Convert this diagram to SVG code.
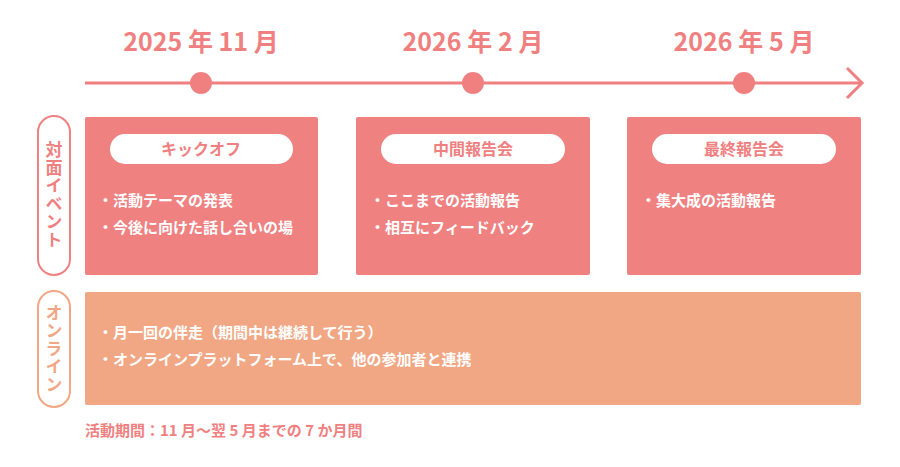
<svg xmlns="http://www.w3.org/2000/svg" width="900" height="467" viewBox="0 0 900 467">
<style>
text{font-family:"Noto Sans CJK JP","Noto Sans",sans-serif;font-weight:bold}
.yr{fill:#F08080;font-size:25px;text-anchor:middle}
.box{fill:#F08181}
.pill{fill:#fff}
.pt{fill:#F08080;font-size:16px;text-anchor:middle}
.it{fill:#fff;font-size:15px}
.vt{font-size:17px;writing-mode:vertical-rl;text-anchor:middle;letter-spacing:1px}
</style>
<g id="connectors">
<line x1="85" y1="83" x2="861" y2="83" stroke="#F08080" stroke-width="3"/>
<polyline points="847,68 862,83 847,98" fill="none" stroke="#F08080" stroke-width="3"/>
</g>
<g id="timeline">
<circle cx="201" cy="83" r="11" fill="#F08080"/>
<circle cx="473" cy="83" r="11" fill="#F08080"/>
<circle cx="744" cy="83" r="11" fill="#F08080"/>
<text class="yr" x="201" y="51">2025 年 11 月</text>
<text class="yr" x="473" y="51">2026 年 2 月</text>
<text class="yr" x="744" y="51">2026 年 5 月</text>
</g>
<g id="label-event">
<rect x="38" y="116" width="32" height="159" rx="16" fill="#fff" stroke="#F08080" stroke-width="2"/>
<text class="vt" x="54" y="195" fill="#F08080">対面イベント</text>
</g>
<g id="label-online">
<rect x="38" y="291" width="32" height="116" rx="16" fill="#fff" stroke="#F2A784" stroke-width="2"/>
<text class="vt" x="54" y="349" fill="#F2A784">オンライン</text>
</g>
<g id="kickoff">
<rect class="box" x="85" y="117" width="233" height="158" rx="2"/>
<rect class="pill" x="110" y="134" width="183" height="30" rx="15"/>
<text class="pt" x="201" y="155">キックオフ</text>
<text class="it" x="98" y="206">・活動テーマの発表</text>
<text class="it" x="98" y="233">・今後に向けた話し合いの場</text>
</g>
<g id="midterm">
<rect class="box" x="356" y="117" width="234" height="158" rx="2"/>
<rect class="pill" x="381" y="134" width="184" height="30" rx="15"/>
<text class="pt" x="473" y="155">中間報告会</text>
<text class="it" x="370" y="206">・ここまでの活動報告</text>
<text class="it" x="370" y="233">・相互にフィードバック</text>
</g>
<g id="final">
<rect class="box" x="627" y="117" width="234" height="158" rx="2"/>
<rect class="pill" x="652" y="134" width="184" height="30" rx="15"/>
<text class="pt" x="744" y="155">最終報告会</text>
<text class="it" x="641" y="206">・集大成の活動報告</text>
</g>
<g id="online">
<rect x="85" y="292" width="776" height="113" rx="2" fill="#F2A784"/>
<text class="it" x="98" y="338">・月一回の伴走（期間中は継続して行う）</text>
<text class="it" x="98" y="365">・オンラインプラットフォーム上で、他の参加者と連携</text>
</g>
<g id="note">
<text x="85" y="436" fill="#F08080" font-size="15">活動期間：11 月～翌 5 月までの 7 か月間</text>
</g>
</svg>
